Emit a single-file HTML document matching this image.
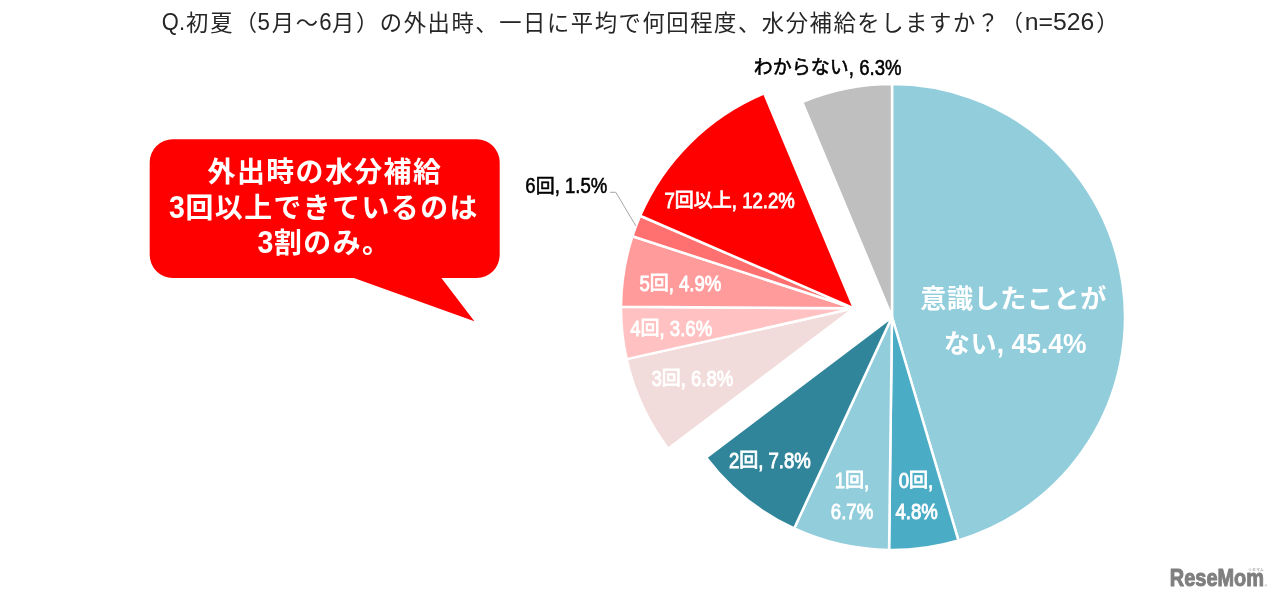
<!DOCTYPE html>
<html lang="ja">
<head>
<meta charset="utf-8">
<title>初夏の外出時の水分補給</title>
<style>
html,body{margin:0;padding:0;background:#fff;}
body{width:1280px;height:601px;overflow:hidden;}
svg{display:block;}
text{font-family:"Liberation Sans","Noto Sans CJK JP",sans-serif;white-space:pre;}
.title{fill:#262626;}
.lab{font-weight:700;fill:#fff;}
.cm{font-weight:400;stroke:#fff;stroke-width:0.85px;}
.lm{font-weight:400;stroke:#fff;stroke-width:0.9px;}
.blk{fill:#000;}
.blk.cm{stroke:#000;stroke-width:0.55px;}
.blk.lm{stroke:#000;stroke-width:0.55px;}
.pie path{stroke:#fff;stroke-width:2.5;stroke-linejoin:miter;}
.logo{font-size:23.6px;font-weight:700;fill:#7f7f7f;stroke:#7f7f7f;stroke-width:1px;stroke-linejoin:round;}
.kana{fill:#8a8a8a;}
</style>
</head>
<body>
<svg width="1280" height="601" viewBox="0 0 1280 601">
<rect width="1280" height="601" fill="#fff"/>
<g>
<text class="title" x="161.8" y="30.2" font-size="24" textLength="23.2" lengthAdjust="spacingAndGlyphs">Q.</text>
<text class="title" x="186.02" y="30.5" font-size="22.3" letter-spacing="2.03">初夏（</text>
<text class="title" x="257.6" y="30.2" font-size="24" textLength="12.4" lengthAdjust="spacingAndGlyphs">5</text>
<text class="title" x="271.85" y="30.5" font-size="22.3" letter-spacing="1.70">月～</text>
<text class="title" x="319.2" y="30.2" font-size="24" textLength="12.4" lengthAdjust="spacingAndGlyphs">6</text>
<text class="title" x="332.09" y="30.5" font-size="22.3" letter-spacing="1.58">月）の外出時、一日に平均で何回程度、水分補給をしますか？（</text>
<text class="title" x="1024.8" y="30.2" font-size="24" textLength="69.5" lengthAdjust="spacingAndGlyphs">n=526</text>
<text class="title" x="1096.35" y="30.5" font-size="22.3" letter-spacing="1.70">）</text>
</g>
<g class="pie">
<path d="M892.00 317.00L892.00 84.00A233 233 0 0 1 958.41 540.34Z" fill="#92CDDC"/>
<path d="M892.00 317.00L958.41 540.34A233 233 0 0 1 889.07 549.98Z" fill="#4BACC6"/>
<path d="M892.00 317.00L889.07 549.98A233 233 0 0 1 794.12 528.44Z" fill="#92CDDC"/>
<path d="M892.00 317.00L794.12 528.44A233 233 0 0 1 706.11 457.48Z" fill="#31859B"/>
<path d="M854.00 308.30L668.11 448.78A233 233 0 0 1 626.61 359.13Z" fill="#F2DCDB"/>
<path d="M854.00 308.30L626.61 359.13A233 233 0 0 1 621.00 306.84Z" fill="#FFC1C1"/>
<path d="M854.00 308.30L621.00 306.84A233 233 0 0 1 632.40 236.30Z" fill="#FF9B9B"/>
<path d="M854.00 308.30L632.40 236.30A233 233 0 0 1 640.16 215.76Z" fill="#FF7070"/>
<path d="M854.00 308.30L640.16 215.76A233 233 0 0 1 764.16 93.32Z" fill="#FF0000"/>
<path d="M892.00 317.00L802.16 102.02A233 233 0 0 1 892.00 84.00Z" fill="#BFBFBF"/>
</g>
<polyline points="610.1,192.3 615.8,192.3 635.8,225.9" fill="none" stroke="#A6A6A6" stroke-width="1"/>
<path d="M172.7 139.2H476.7A23 23 0 0 1 499.7 162.2V254.9A23 23 0 0 1 476.7 277.9H441.4L474.4 321.2L353.9 277.9H172.7A23 23 0 0 1 149.7 254.9V162.2A23 23 0 0 1 172.7 139.2Z" fill="#FF0000"/>
<g>
<text class="lab blk cm" x="753.87" y="74.20" font-size="19.00" letter-spacing="0.00">わからない</text>
<text class="lab blk lm" x="848.87" y="75.00" font-size="21.6" textLength="52.66" lengthAdjust="spacingAndGlyphs">, 6.3%</text>
<text class="lab blk lm" x="525.30" y="193.30" font-size="21.6" textLength="10.33" lengthAdjust="spacingAndGlyphs">6</text>
<text class="lab blk cm" x="535.63" y="192.50" font-size="19.00" letter-spacing="0.00">回</text>
<text class="lab blk lm" x="554.63" y="193.30" font-size="21.6" textLength="52.66" lengthAdjust="spacingAndGlyphs">, 1.5%</text>
<text class="lab lm" x="664.54" y="208.00" font-size="21.6" textLength="10.33" lengthAdjust="spacingAndGlyphs">7</text>
<text class="lab cm" x="674.87" y="207.20" font-size="19.00" letter-spacing="0.00">回以上</text>
<text class="lab lm" x="731.87" y="208.00" font-size="21.6" textLength="62.99" lengthAdjust="spacingAndGlyphs">, 12.2%</text>
<text class="lab lm" x="639.40" y="290.70" font-size="21.6" textLength="10.33" lengthAdjust="spacingAndGlyphs">5</text>
<text class="lab cm" x="649.73" y="289.90" font-size="19.00" letter-spacing="0.00">回</text>
<text class="lab lm" x="668.73" y="290.70" font-size="21.6" textLength="52.66" lengthAdjust="spacingAndGlyphs">, 4.9%</text>
<text class="lab lm" x="630.20" y="335.50" font-size="21.6" textLength="10.33" lengthAdjust="spacingAndGlyphs">4</text>
<text class="lab cm" x="640.53" y="334.70" font-size="19.00" letter-spacing="0.00">回</text>
<text class="lab lm" x="659.53" y="335.50" font-size="21.6" textLength="52.66" lengthAdjust="spacingAndGlyphs">, 3.6%</text>
<text class="lab lm" x="651.40" y="386.20" font-size="21.6" textLength="10.33" lengthAdjust="spacingAndGlyphs">3</text>
<text class="lab cm" x="661.73" y="385.40" font-size="19.00" letter-spacing="0.00">回</text>
<text class="lab lm" x="680.73" y="386.20" font-size="21.6" textLength="52.66" lengthAdjust="spacingAndGlyphs">, 6.8%</text>
<text class="lab lm" x="728.90" y="468.20" font-size="21.6" textLength="10.33" lengthAdjust="spacingAndGlyphs">2</text>
<text class="lab cm" x="739.23" y="467.40" font-size="19.00" letter-spacing="0.00">回</text>
<text class="lab lm" x="758.23" y="468.20" font-size="21.6" textLength="52.66" lengthAdjust="spacingAndGlyphs">, 7.8%</text>
<text class="lab lm" x="834.75" y="487.50" font-size="21.6" textLength="10.33" lengthAdjust="spacingAndGlyphs">1</text>
<text class="lab cm" x="845.09" y="486.70" font-size="19.00" letter-spacing="0.00">回</text>
<text class="lab lm" x="864.09" y="487.50" font-size="21.6" textLength="5.16" lengthAdjust="spacingAndGlyphs">,</text>
<text class="lab lm" x="830.83" y="519.00" font-size="21.6" textLength="42.34" lengthAdjust="spacingAndGlyphs">6.7%</text>
<text class="lab lm" x="898.75" y="487.50" font-size="21.6" textLength="10.33" lengthAdjust="spacingAndGlyphs">0</text>
<text class="lab cm" x="909.09" y="486.70" font-size="19.00" letter-spacing="0.00">回</text>
<text class="lab lm" x="928.09" y="487.50" font-size="21.6" textLength="5.16" lengthAdjust="spacingAndGlyphs">,</text>
<text class="lab lm" x="895.43" y="519.00" font-size="21.6" textLength="42.34" lengthAdjust="spacingAndGlyphs">4.8%</text>
<text class="lab" x="920.32" y="308.00" font-size="26.14" letter-spacing="0.53">意識したことが</text>
<text class="lab" x="943.76" y="352.60" font-size="26.14" letter-spacing="0.53">ない</text>
<text class="lab" x="996.84" y="352.90" font-size="27.4" textLength="89.66" lengthAdjust="spacingAndGlyphs">, 45.4%</text>
<text class="lab" x="207.61" y="181.80" font-size="27.86" letter-spacing="1.47">外出時の水分補給</text>
<text class="lab" x="168.91" y="217.90" font-size="30.7" textLength="15.88" lengthAdjust="spacingAndGlyphs">3</text>
<text class="lab" x="185.52" y="218.20" font-size="27.86" letter-spacing="1.47">回以上できているのは</text>
<text class="lab" x="257.40" y="252.50" font-size="30.7" textLength="15.88" lengthAdjust="spacingAndGlyphs">3</text>
<text class="lab" x="274.01" y="252.80" font-size="27.86" letter-spacing="1.47">割のみ。</text>
</g>
<text class="logo" x="1169.8" y="586.2" textLength="94.2" lengthAdjust="spacingAndGlyphs">ReseMom</text>
<text class="kana" x="1248" y="571" font-size="3.6" textLength="15.8" lengthAdjust="spacingAndGlyphs">リセマム</text>
<text class="kana" x="1264.6" y="587" font-size="3.4">®</text>
</svg>
</body>
</html>
